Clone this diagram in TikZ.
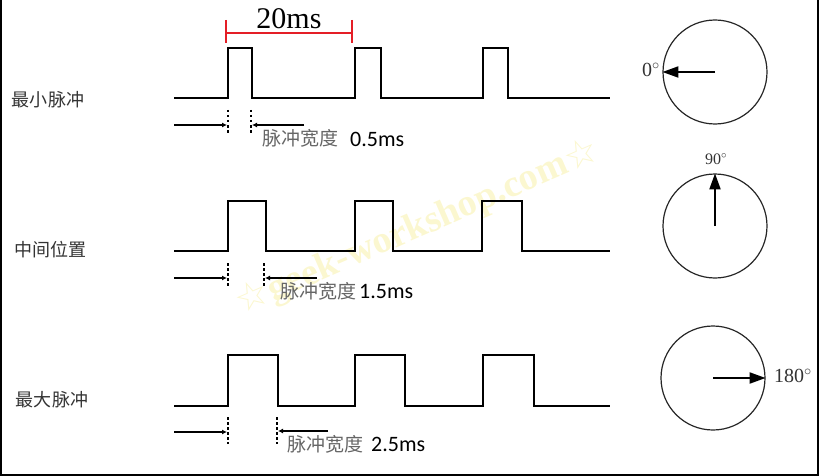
\documentclass[tikz,border=0pt]{standalone}
\usepackage{fontspec}
\setmainfont{Liberation Serif}
\newfontfamily\cjkfont{Noto Sans CJK SC}
\newfontfamily\msfont{Carlito}
\newfontfamily\starfont{DejaVu Sans}
\usetikzlibrary{arrows.meta}

\definecolor{dimred}{RGB}{228,30,38}
\definecolor{markcol}{RGB}{251,247,208}

\tikzset{
  wave/.style={line width=2.4pt, line join=miter},
  edgedots/.style={line width=2pt, dash pattern=on 2.5pt off 2.5pt},
  widthline/.style={line width=2pt, -{Latex[length=5pt,width=5pt]}},
  dial/.style={circle, draw=black!85, line width=1.2pt, minimum size=104pt, inner sep=0pt},
  needle/.style={line width=2pt, -{Triangle[length=16pt,width=11pt]}},
  rowlabel/.style={font=\cjkfont\fontsize{18}{18}\selectfont, text=black!80, inner sep=0pt},
  widthlabel/.style={font=\cjkfont\fontsize{19}{19}\selectfont, text=black!60, inner sep=0pt, anchor=west},
  mslabel/.style={font=\msfont\fontsize{22}{22}\selectfont, inner sep=0pt, anchor=west},
  deglabel/.style={font=\fontsize{20}{20}\selectfont, text=black!80, inner sep=0pt}
}

\begin{document}
\begin{tikzpicture}[x=1pt,y=-1pt]
  \useasboundingbox (0,0) rectangle (821,476);

  % Frame on the left, bottom and right
  \draw[line width=2pt] (1,0) -- (1,475) -- (818,475) -- (818,0);

  % Watermark
  \node[text=markcol, rotate=23.5, font=\bfseries\fontsize{38}{38}\selectfont] (mark) at (418,228)
    {{\starfont ☆}geek-workshop.com{\starfont ☆}};

  % Period of the signal
  \draw[dimred, line width=1.5pt] (226,20) -- (226,43);
  \draw[dimred, line width=1.5pt] (352,20) -- (352,43);
  \draw[dimred, line width=1.5pt] (226,33) -- (352,33);
  \node[anchor=base, inner sep=0pt, font=\fontsize{30}{30}\selectfont] (period) at (289,29) {20ms};

  % Row labels
  \node[rowlabel] (rowmin) at (48,100) {最小脉冲};
  \node[rowlabel] (rowmid) at (50,250) {中间位置};
  \node[rowlabel] (rowmax) at (52,400) {最大脉冲};

  % Minimum pulse, 0.5ms
  \draw[wave] (174,98) -- (228,98) -- (228,48) -- (252,48) -- (252,98)
    -- (355,98) -- (355,48) -- (381,48) -- (381,98)
    -- (483,98) -- (483,48) -- (508,48) -- (508,98) -- (610,98);
  \draw[edgedots] (228,110) -- (228,133);
  \draw[edgedots] (251,110) -- (251,133);
  \coordinate (mina) at (174,125);
  \coordinate (minb) at (304,125);
  \draw[widthline] (mina) -- (227,125);
  \draw[widthline] (minb) -- (252,125);
  \node[widthlabel] (minw) at (262,138) {脉冲宽度};
  \node[mslabel] (minms) at (350,139) {0.5ms};

  % Middle position, 1.5ms
  \draw[wave] (174,251) -- (228,251) -- (228,201) -- (266,201) -- (266,251)
    -- (355,251) -- (355,201) -- (393,201) -- (393,251)
    -- (482,251) -- (482,201) -- (522,201) -- (522,251) -- (610,251);
  \draw[edgedots] (228,263) -- (228,287);
  \draw[edgedots] (264,263) -- (264,287);
  \coordinate (mida) at (174,278);
  \coordinate (midb) at (317,278);
  \draw[widthline] (mida) -- (227,278);
  \draw[widthline] (midb) -- (265,278);
  \node[widthlabel] (midw) at (280,291) {脉冲宽度};
  \node[mslabel] (midms) at (359,292) {1.5ms};

  % Maximum pulse, 2.5ms
  \draw[wave] (174,406) -- (228,406) -- (228,355) -- (278,355) -- (278,406)
    -- (355,406) -- (355,355) -- (405,355) -- (405,406)
    -- (483,406) -- (483,355) -- (534,355) -- (534,406) -- (610,406);
  \draw[edgedots] (228,417) -- (228,444);
  \draw[edgedots] (277,417) -- (277,444);
  \coordinate (maxa) at (174,432);
  \coordinate (maxb) at (328,431);
  \draw[widthline] (maxa) -- (227,432);
  \draw[widthline] (maxb) -- (278,431);
  \node[widthlabel] (maxw) at (287,444) {脉冲宽度};
  \node[mslabel] (maxms) at (371,444) {2.5ms};

  % Servo dials
  \node[dial] (dialmin) at (715,72) {};
  \draw[needle] (dialmin.center) -- (dialmin.west);
  \node[deglabel] (degmin) at (651,70) {0$^{\circ}$};

  \node[dial] (dialmid) at (715,226) {};
  \draw[needle] (dialmid.center) -- (dialmid.north);
  \node[deglabel, font=\fontsize{16}{16}\selectfont] (degmid) at (716,159) {90$^{\circ}$};

  \node[dial] (dialmax) at (713,378) {};
  \draw[needle] (dialmax.center) -- (dialmax.east);
  \node[deglabel] (degmax) at (793,376) {180$^{\circ}$};
\end{tikzpicture}
\end{document}
